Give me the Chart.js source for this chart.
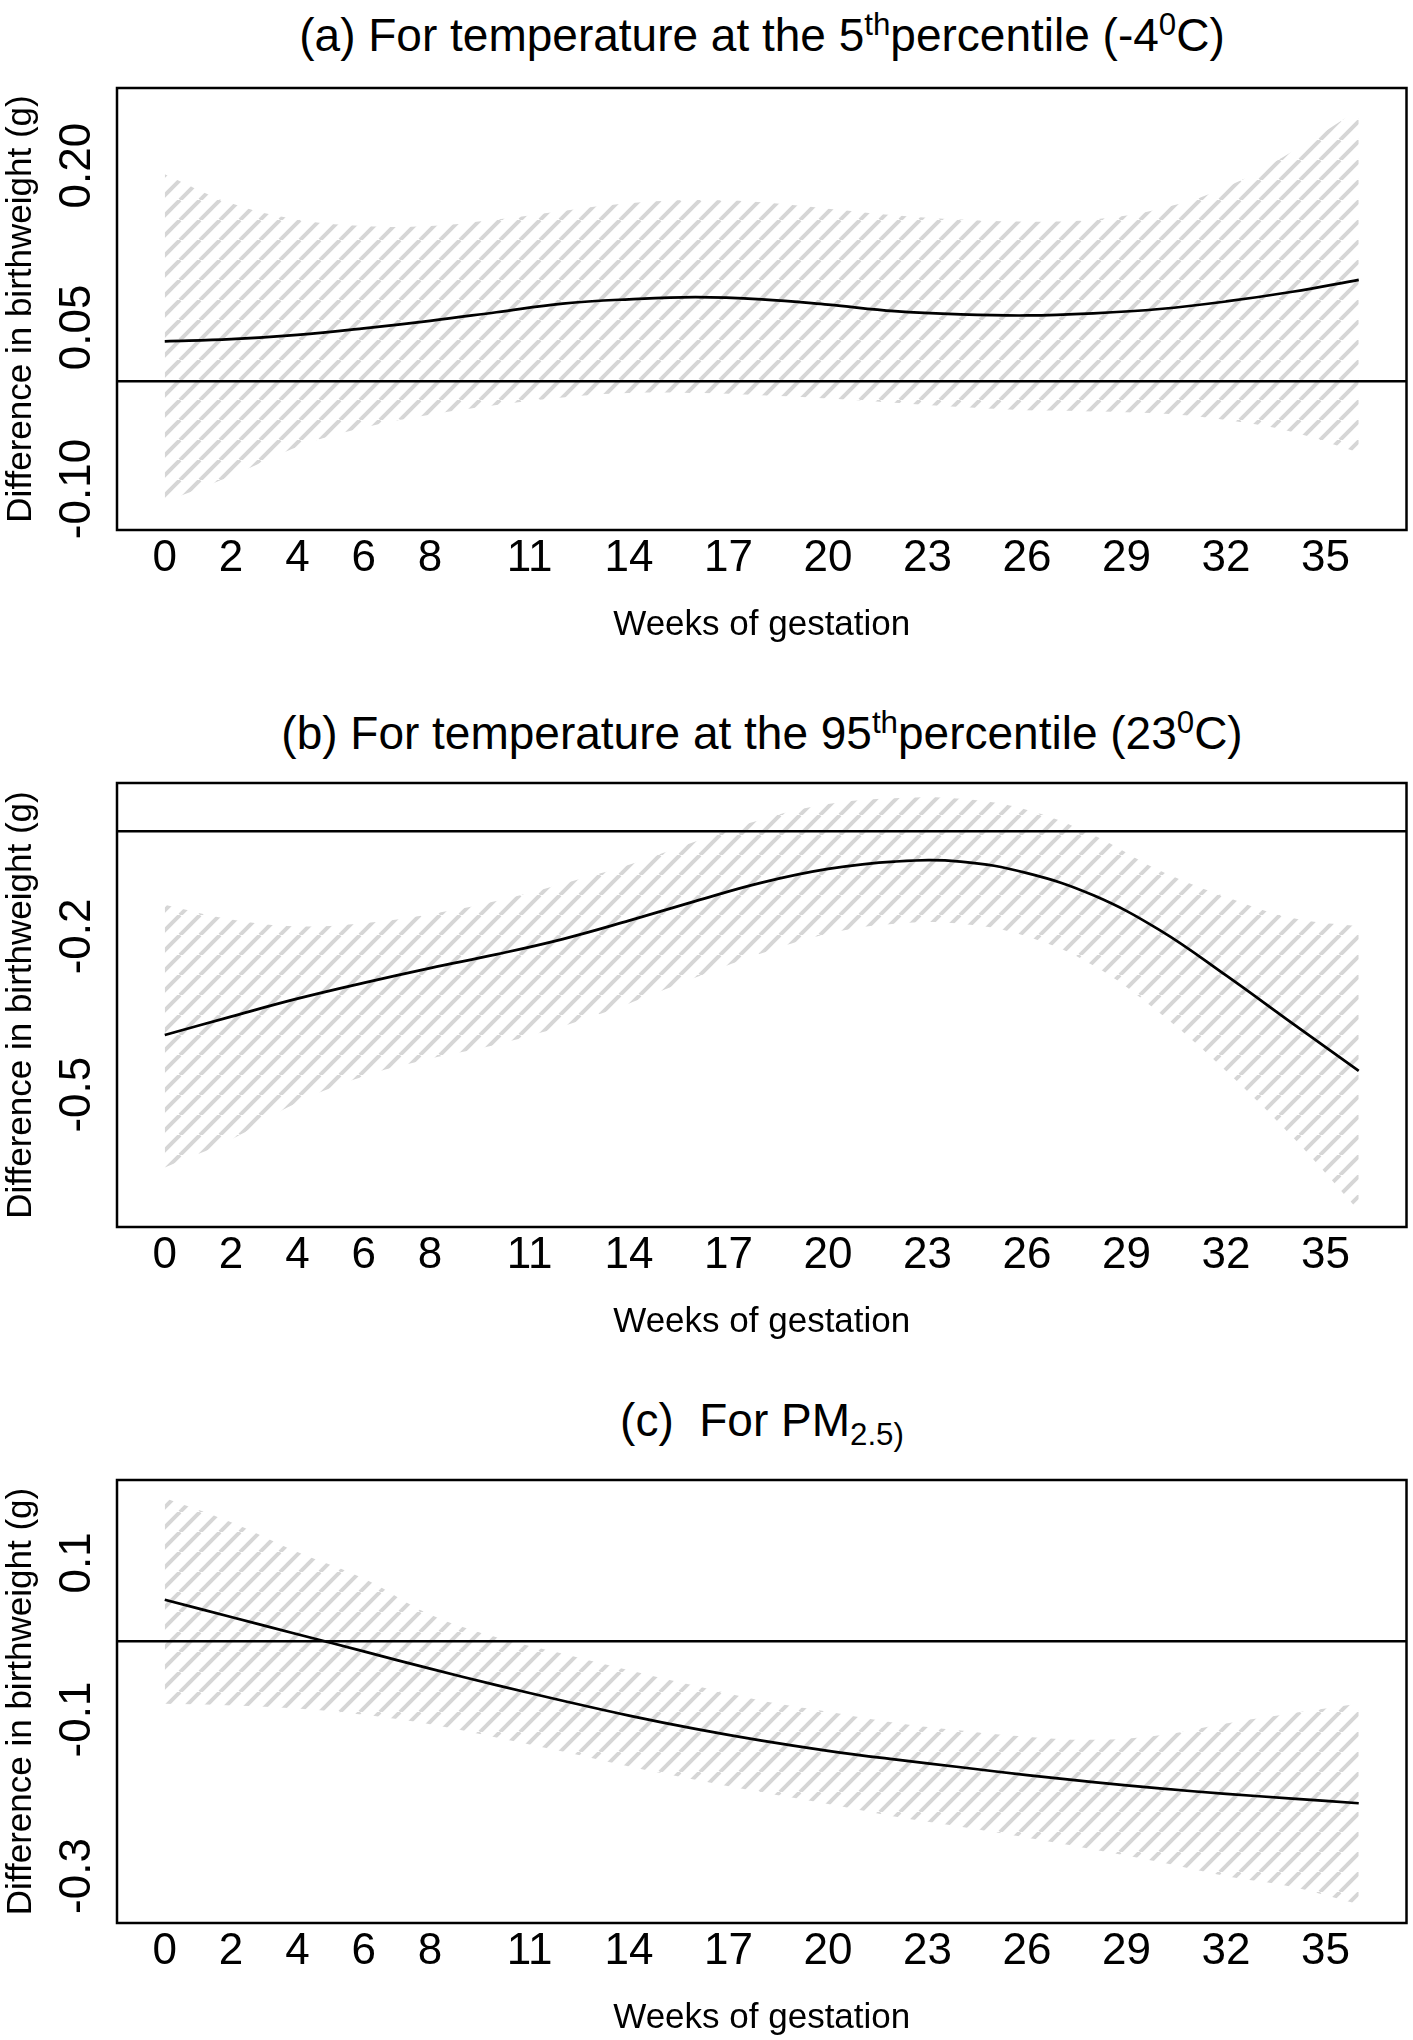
<!DOCTYPE html>
<html lang="en">
<head>
    <meta charset="UTF-8">
    <title>Difference in birthweight by week of gestation</title>
    <script src="https://cdn.jsdelivr.net/npm/chart.js"></script>
    <style>
        html, body { margin: 0; padding: 0; background: #fff; }
        body {
            width: 1413px;
            height: 2040px;
            position: relative;
            overflow: hidden;
            font-family: "Liberation Sans", Arial, Helvetica, sans-serif;
        }
        .panel-title {
            position: absolute;
            left: 117px;
            width: 1290px;
            text-align: center;
            font-size: 46px;
            line-height: 46px;
            color: #000;
            white-space: nowrap;
        }
        .panel-title .sup { font-size: 0.68em; position: relative; top: -0.5em; }
        .panel-title .sub { font-size: 0.68em; position: relative; top: 0.3em; }
        canvas { position: absolute; left: 0; }
    </style>
</head>
<body>
    <div class="panel-title" style="top:12px">(a) For temperature at the 5<span class="sup">th</span>percentile (-4<span class="sup">0</span>C)</div>
    <div class="panel-title" style="top:710px">(b) For temperature at the 95<span class="sup">th</span>percentile (23<span class="sup">0</span>C)</div>
    <div class="panel-title" style="top:1397px">(c)&nbsp; For PM<span class="sub">2.5)</span></div>

    <canvas id="chartA" width="1413" height="680" style="top:0px"></canvas>
    <canvas id="chartB" width="1413" height="680" style="top:695px"></canvas>
    <canvas id="chartC" width="1413" height="648" style="top:1392px"></canvas>

    <script>
        // weeks of gestation (lag), every 2 weeks
        const weeks = [0, 2, 4, 6, 8, 10, 12, 14, 16, 18, 20, 22, 24, 26, 28, 30, 32, 34, 36];
        const weekTicks = [0, 2, 4, 6, 8, 11, 14, 17, 20, 23, 26, 29, 32, 35];

        // (a) cold, 5th percentile
        const coldEffect = [0.037, 0.039, 0.043, 0.049, 0.056, 0.064, 0.072, 0.076, 0.078, 0.076, 0.071, 0.065, 0.062, 0.061, 0.063, 0.067, 0.074, 0.083, 0.094];
        const coldUpper  = [0.192, 0.165, 0.150, 0.144, 0.144, 0.150, 0.158, 0.165, 0.168, 0.166, 0.160, 0.154, 0.150, 0.148, 0.150, 0.160, 0.180, 0.213, 0.252];
        const coldLower  = [-0.112, -0.088, -0.061, -0.043, -0.031, -0.022, -0.015, -0.011, -0.011, -0.013, -0.016, -0.020, -0.024, -0.027, -0.028, -0.030, -0.036, -0.047, -0.066];
        const coldTicks  = [0.20, 0.05, -0.10];

        // (b) heat, 95th percentile
        const heatEffect = [-0.387, -0.352, -0.318, -0.288, -0.260, -0.234, -0.205, -0.170, -0.133, -0.098, -0.072, -0.058, -0.058, -0.080, -0.122, -0.188, -0.274, -0.365, -0.455];
        const heatUpper  = [-0.140, -0.168, -0.181, -0.175, -0.158, -0.133, -0.100, -0.064, -0.020, 0.022, 0.051, 0.062, 0.061, 0.040, -0.008, -0.075, -0.125, -0.165, -0.181];
        const heatLower  = [-0.638, -0.585, -0.515, -0.465, -0.432, -0.405, -0.370, -0.327, -0.278, -0.232, -0.195, -0.176, -0.176, -0.200, -0.255, -0.345, -0.455, -0.580, -0.720];
        const heatTicks  = [-0.2, -0.5];

        // (c) PM2.5
        const pmEffect = [0.053, 0.031, 0.009, -0.013, -0.035, -0.056, -0.076, -0.095, -0.112, -0.127, -0.140, -0.151, -0.161, -0.171, -0.180, -0.188, -0.195, -0.201, -0.207];
        const pmUpper  = [0.183, 0.152, 0.114, 0.080, 0.034, 0.005, -0.016, -0.037, -0.057, -0.076, -0.090, -0.104, -0.114, -0.122, -0.126, -0.120, -0.105, -0.092, -0.080];
        const pmLower  = [-0.080, -0.082, -0.086, -0.094, -0.106, -0.123, -0.141, -0.160, -0.177, -0.193, -0.208, -0.224, -0.237, -0.251, -0.266, -0.282, -0.300, -0.314, -0.336];
        const pmTicks  = [0.1, -0.1, -0.3];

        const fontFamily = '"Liberation Sans", Arial, Helvetica, sans-serif';

        // grey diagonal hatching like R's polygon(density=...)
        function makeHatch() {
            const s = 20;
            const c = document.createElement('canvas');
            c.width = s;
            c.height = s;
            const g = c.getContext('2d');
            g.strokeStyle = '#d6d6d6';
            g.lineWidth = 4;
            for (let k = -1; k <= 1; k++) {
                g.beginPath();
                g.moveTo(k * s, s);
                g.lineTo(k * s + s, 0);
                g.stroke();
            }
            return g.createPattern(c, 'repeat');
        }

        const plotBox = {
            id: 'plotBox',
            afterDraw(chart) {
                const { ctx, chartArea: a } = chart;
                ctx.save();
                ctx.strokeStyle = '#000';
                ctx.lineWidth = 2.5;
                ctx.strokeRect(a.left, a.top, a.right - a.left, a.bottom - a.top);
                ctx.restore();
            }
        };

        function points(ys) {
            return weeks.map((w, i) => ({ x: w, y: ys[i] }));
        }

        function makePanel(id, boxHeight, yMin, yMax, yTicks, decimals, mid, upper, lower) {
            const canvas = document.getElementById(id);
            const labels = yTicks.map(v => v.toFixed(decimals));
            const m = document.createElement('canvas').getContext('2d');
            m.font = '44px ' + fontFamily;
            const widest = Math.max(...labels.map(l => m.measureText(l).width));

            new Chart(canvas.getContext('2d'), {
                type: 'line',
                data: {
                    datasets: [
                        { data: points(mid), borderColor: '#000', borderWidth: 2.7, pointRadius: 0, tension: 0.4, fill: false },
                        { data: points(upper), borderWidth: 0, borderColor: 'rgba(0,0,0,0)', pointRadius: 0, tension: 0.4, fill: '+1', backgroundColor: makeHatch() },
                        { data: points(lower), borderWidth: 0, borderColor: 'rgba(0,0,0,0)', pointRadius: 0, tension: 0.4, fill: false }
                    ]
                },
                options: {
                    responsive: false,
                    animation: false,
                    events: [],
                    layout: {
                        padding: { top: 88, right: 6.5, left: 0, bottom: canvas.height - 88 - boxHeight - 116 }
                    },
                    plugins: {
                        legend: { display: false },
                        tooltip: { enabled: false }
                    },
                    scales: {
                        x: {
                            type: 'linear',
                            min: -1.44,
                            max: 37.44,
                            afterBuildTicks: s => { s.ticks = weekTicks.map(v => ({ value: v })); },
                            afterFit: s => { s.height = 116; },
                            grid: { display: false, drawTicks: false },
                            border: { display: false },
                            ticks: { font: { size: 44, family: fontFamily }, color: '#000', padding: 2, maxRotation: 0, autoSkip: false },
                            title: { display: true, text: 'Weeks of gestation', color: '#000', font: { size: 35, family: fontFamily }, padding: { top: 0, bottom: 0 } }
                        },
                        y: {
                            min: yMin,
                            max: yMax,
                            afterBuildTicks: s => { s.ticks = yTicks.concat([0]).map(v => ({ value: v })); },
                            afterFit: s => { s.width = 117; },
                            grid: {
                                z: 1,
                                drawTicks: false,
                                lineWidth: 2.6,
                                color: c => (c.tick && c.tick.value === 0) ? '#000' : 'rgba(0,0,0,0)'
                            },
                            border: { display: false },
                            ticks: {
                                font: { size: 44, family: fontFamily },
                                color: '#000',
                                minRotation: 90,
                                maxRotation: 90,
                                crossAlign: 'center',
                                padding: 39.5 - widest / 2,
                                autoSkip: false,
                                callback: v => v === 0 ? '' : v.toFixed(decimals)
                            },
                            title: { display: true, text: 'Difference in birthweight (g)', color: '#000', font: { size: 35, family: fontFamily }, padding: { top: 0, bottom: 0 } }
                        }
                    }
                },
                plugins: [plotBox]
            });
        }

        makePanel('chartA', 442, -0.138, 0.272, coldTicks, 2, coldEffect, coldUpper, coldLower);
        makePanel('chartB', 444, -0.751, 0.091, heatTicks, 1, heatEffect, heatUpper, heatLower);
        makePanel('chartC', 443, -0.360, 0.206, pmTicks, 1, pmEffect, pmUpper, pmLower);
    </script>
</body>
</html>
